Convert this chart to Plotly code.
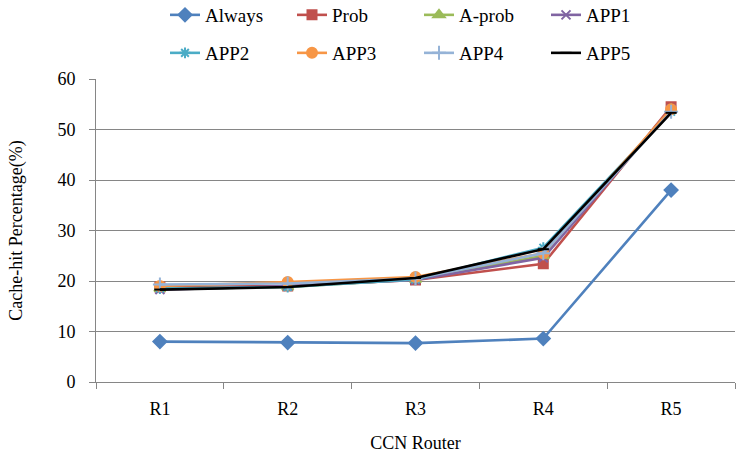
import plotly.graph_objects as go

routers = ["R1", "R2", "R3", "R4", "R5"]
always = [8.0, 7.8, 7.7, 8.6, 38.0]
prob = [18.8, 19.0, 20.2, 23.4, 54.5]
aprob = [18.5, 18.8, 20.3, 25.0, 54.0]
app1 = [18.3, 19.0, 20.2, 24.6, 54.0]
app2 = [18.5, 18.8, 20.3, 26.6, 53.5]
app3 = [19.0, 19.8, 20.8, 25.5, 54.0]
app4 = [19.3, 19.5, 20.5, 25.5, 53.5]
app5 = [18.3, 18.8, 20.6, 26.3, 53.3]

series = [
    ("Always", always, "#4F81BD", "diamond", 10, "legend"),
    ("Prob", prob, "#C0504D", "square", 9, "legend"),
    ("A-prob", aprob, "#9BBB59", "triangle-up", 10, "legend"),
    ("APP1", app1, "#8064A2", "x-thin-open", 9, "legend"),
    ("APP2", app2, "#4BACC6", "asterisk-open", 9, "legend2"),
    ("APP3", app3, "#F79646", "circle", 10, "legend2"),
    ("APP4", app4, "#95B3D7", "cross-thin-open", 10, "legend2"),
    ("APP5", app5, "#000000", "line-ew-open", 8, "legend2"),
]

FONT = "'Liberation Serif', 'Times New Roman', serif"
fig = go.Figure()
for name, vals, color, sym, size, leg in series:
    fig.add_trace(go.Scatter(
        x=routers, y=vals, name=name, mode="lines+markers",
        line=dict(color=color, width=2.6),
        marker=dict(symbol=sym, size=size, color=color,
                    line=dict(color=color, width=2)),
        legend=leg,
    ))

leg_common = dict(orientation="h", xanchor="left", yanchor="middle",
                  xref="container", yref="container",
                  font=dict(family=FONT, size=19, color="#000000"),
                  entrywidth=82, entrywidthmode="pixels",
                  bgcolor="rgba(0,0,0,0)", tracegroupgap=0)

fig.update_layout(
    width=743, height=460,
    margin=dict(l=96, r=8, t=79, b=78, autoexpand=False),
    paper_bgcolor="white", plot_bgcolor="white",
    font=dict(family=FONT, size=18, color="#000000"),
    legend=dict(x=165 / 743, y=1 - 15 / 460, **leg_common),
    legend2=dict(x=165 / 743, y=1 - 53 / 460, **leg_common),
    xaxis=dict(
        type="category", range=[-0.5, 4.5],
        showline=True, linecolor="#868686", linewidth=1,
        ticks="outside", tickson="boundaries", ticklen=6, tickcolor="#868686",
        showgrid=False, tickfont=dict(family=FONT, size=18),
        ticklabelstandoff=10,
        title=dict(text="CCN Router", font=dict(family=FONT, size=18), standoff=18),
    ),
    yaxis=dict(
        range=[0, 60], dtick=10,
        showline=True, linecolor="#868686", linewidth=1,
        ticks="outside", ticklen=6, tickcolor="#868686",
        showgrid=True, gridcolor="#868686", gridwidth=1,
        zeroline=False, tickfont=dict(family=FONT, size=18),
        ticklabelstandoff=10,
        title=dict(text="Cache-hit Percentage(%)", font=dict(family=FONT, size=18), standoff=30),
    ),
)

fig.write_html("out.html")
